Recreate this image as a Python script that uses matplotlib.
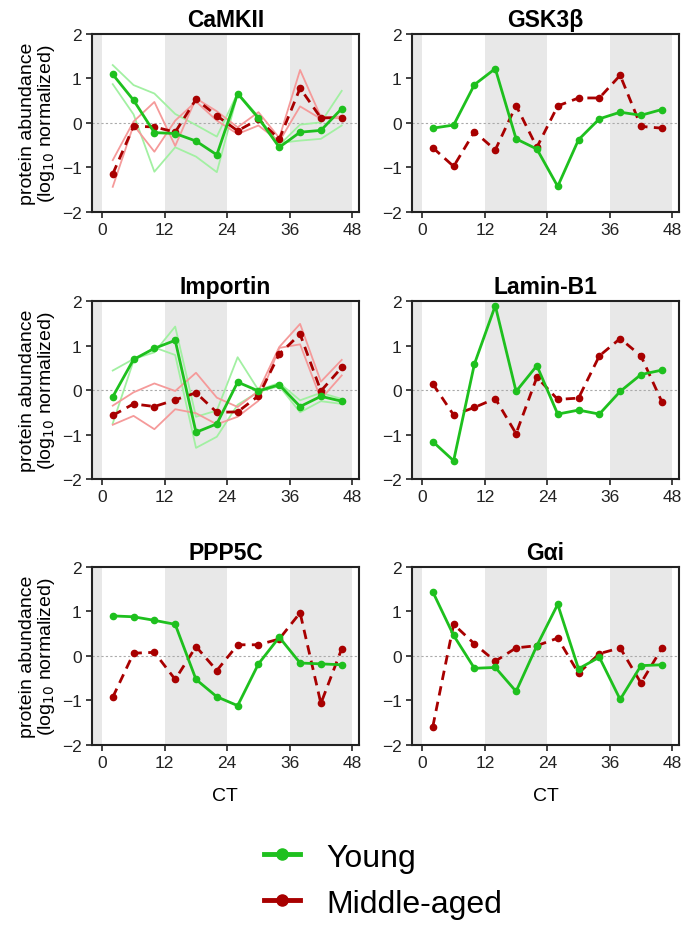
import matplotlib
matplotlib.use("Agg")
import matplotlib.pyplot as plt
from matplotlib.lines import Line2D

plt.rcParams["font.family"] = ["Liberation Sans", "DejaVu Sans"]

# Sampling times (CT, hours)
ct = [2, 6, 10, 14, 18, 22, 26, 30, 34, 38, 42, 46]

# CaMKII
camkii_young = [1.09, 0.51, -0.22, -0.24, -0.41, -0.72, 0.66, 0.11, -0.55, -0.21, -0.17, 0.32]
camkii_young_rep1 = [1.30, 0.85, 0.66, 0.20, -0.05, -0.31, 0.67, 0.14, -0.50, -0.04, 0.01, 0.72]
camkii_young_rep2 = [0.87, 0.19, -1.10, -0.55, -0.76, -1.11, 0.65, 0.08, -0.45, -0.40, -0.36, -0.06]
camkii_middle = [-1.15, -0.08, -0.09, -0.21, 0.53, 0.16, -0.18, 0.08, -0.37, 0.78, 0.11, 0.12]
camkii_middle_rep1 = [-0.84, 0.03, 0.47, -0.52, 0.55, 0.26, -0.10, 0.24, -0.34, 1.19, 0.13, 0.10]
camkii_middle_rep2 = [-1.44, -0.05, -0.65, 0.05, 0.48, 0.05, -0.25, -0.06, -0.42, 0.37, 0.09, 0.15]

# Importin
importin_young = [-0.15, 0.69, 0.94, 1.12, -0.95, -0.76, 0.18, -0.02, 0.12, -0.37, -0.14, -0.25]
importin_young_rep1 = [0.44, 0.70, 0.85, 1.43, -0.60, -0.46, 0.74, 0.00, 0.16, -0.23, -0.06, -0.20]
importin_young_rep2 = [-0.75, 0.66, 0.96, 0.79, -1.30, -1.05, -0.33, -0.04, 0.09, -0.50, -0.25, -0.31]
importin_middle = [-0.57, -0.31, -0.37, -0.22, -0.06, -0.50, -0.49, -0.13, 0.81, 1.26, -0.02, 0.51]
importin_middle_rep1 = [-0.35, -0.05, 0.15, -0.02, 0.39, -0.17, -0.38, -0.02, 0.97, 1.49, 0.19, 0.68]
importin_middle_rep2 = [-0.78, -0.58, -0.88, -0.43, -0.52, -0.77, -0.60, -0.24, 0.95, 1.03, -0.20, 0.33]

# Single-series panels
gsk3b_young = [-0.12, -0.05, 0.86, 1.22, -0.36, -0.59, -1.43, -0.38, 0.09, 0.24, 0.17, 0.30]
gsk3b_middle = [-0.56, -0.98, -0.20, -0.61, 0.39, -0.55, 0.38, 0.56, 0.56, 1.07, -0.08, -0.12]
laminb1_young = [-1.16, -1.59, 0.59, 1.90, -0.03, 0.55, -0.54, -0.45, -0.54, -0.03, 0.35, 0.45]
laminb1_middle = [0.14, -0.56, -0.39, -0.19, -0.98, 0.29, -0.21, -0.18, 0.77, 1.16, 0.77, -0.26]
ppp5c_young = [0.90, 0.88, 0.80, 0.71, -0.53, -0.92, -1.12, -0.18, 0.42, -0.16, -0.18, -0.20]
ppp5c_middle = [-0.93, 0.06, 0.08, -0.53, 0.21, -0.33, 0.25, 0.25, 0.38, 0.97, -1.07, 0.16]
gai_young = [1.44, 0.46, -0.28, -0.26, -0.80, 0.23, 1.16, -0.29, -0.03, -0.98, -0.22, -0.20]
gai_middle = [-1.59, 0.71, 0.27, -0.12, 0.18, 0.23, 0.40, -0.39, 0.05, 0.18, -0.61, 0.17]

titles = ["CaMKII", "GSK3β", "Importin", "Lamin-B1", "PPP5C", "Gαi"]
young_means = [camkii_young, gsk3b_young, importin_young, laminb1_young, ppp5c_young, gai_young]
middle_means = [camkii_middle, gsk3b_middle, importin_middle, laminb1_middle, ppp5c_middle, gai_middle]
young_reps = {0: [camkii_young_rep1, camkii_young_rep2], 2: [importin_young_rep1, importin_young_rep2]}
middle_reps = {0: [camkii_middle_rep1, camkii_middle_rep2], 2: [importin_middle_rep1, importin_middle_rep2]}

dark_bands = [(-3, 0), (12, 24), (36, 48)]

GREEN = "#1ec01e"
RED = "#a80000"
LIGHT_GREEN = "#a2f0a2"
LIGHT_RED = "#f59a9a"

fig = plt.figure(figsize=(6.81, 9.28), dpi=100)

lefts = [0.135, 0.605]
bottoms = [0.7708, 0.4828, 0.1964]
w, h = 0.392, 0.1915

for i, title in enumerate(titles):
    row, col = divmod(i, 2)
    ax = fig.add_axes([lefts[col], bottoms[row], w, h])
    for a, b in dark_bands:
        ax.axvspan(a, b, color="#e8e8e8", lw=0, zorder=0)
    ax.axhline(0, color="#aaaaaa", lw=0.8, ls=(0, (2, 2)), zorder=1)

    for rep in young_reps.get(i, []):
        ax.plot(ct, rep, color=LIGHT_GREEN, lw=1.3, zorder=2)
    for rep in middle_reps.get(i, []):
        ax.plot(ct, rep, color=LIGHT_RED, lw=1.3, zorder=2)

    ax.plot(ct, young_means[i], color=GREEN, lw=2.0, marker="o", ms=4.5, zorder=4)
    ax.plot(ct, middle_means[i], color=RED, lw=2.0, ls=(0, (3.4, 2.3)),
            marker="o", ms=4.5, zorder=3)

    ax.set_xlim(-2, 49.3)
    ax.set_ylim(-2, 2)
    ax.set_xticks([0, 12, 24, 36, 48])
    ax.set_yticks([-2, -1, 0, 1, 2])
    ax.tick_params(labelsize=12.5, width=1.2, length=4, colors="#222222")
    for s in ax.spines.values():
        s.set_linewidth(1.5)
        s.set_color("#222222")
    ax.set_title(title, fontsize=16.5, fontweight="bold", pad=6)
    if col == 0:
        ax.set_ylabel("protein abundance\n(log$_{10}$ normalized)", fontsize=14,
                      linespacing=1.0, labelpad=3)
    if row == 2:
        ax.set_xlabel("CT", fontsize=14, labelpad=12)

handles = [
    Line2D([], [], color=GREEN, lw=3.5, marker="o", ms=8),
    Line2D([], [], color=RED, lw=3.5, marker="o", ms=8),
]
fig.legend(handles, ["Young", "Middle-aged"], loc="center", bbox_to_anchor=(0.562, 0.05),
           frameon=False, fontsize=23, handlelength=1.15, labelspacing=0.5,
           handletextpad=0.8)

fig.savefig("out.png", dpi=100)
